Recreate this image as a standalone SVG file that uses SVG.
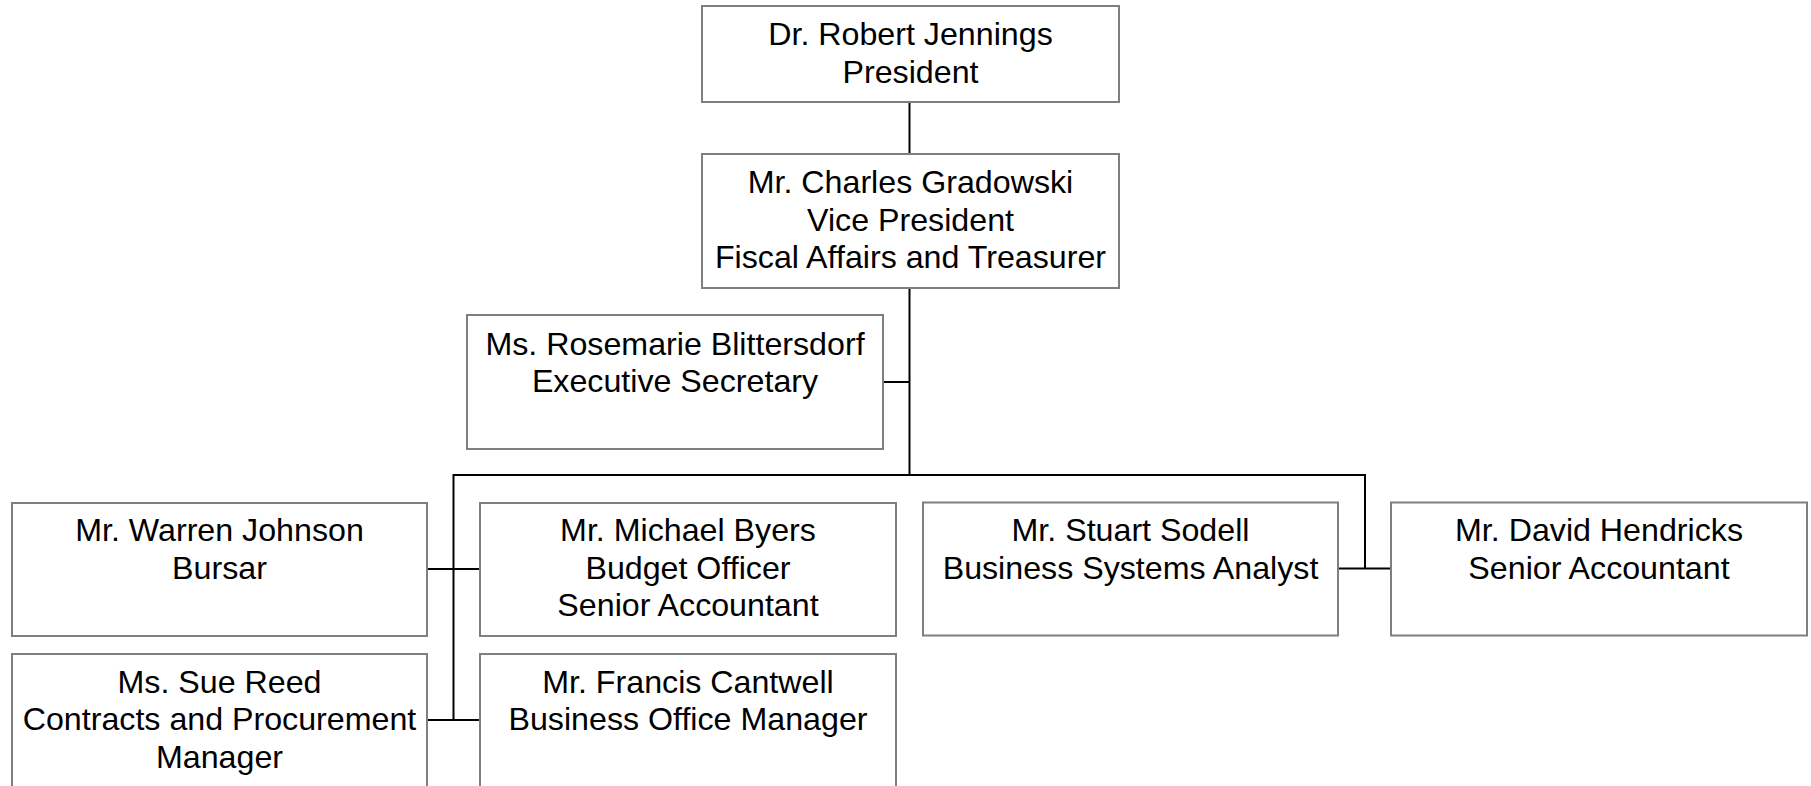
<svg xmlns="http://www.w3.org/2000/svg" width="1811" height="786" viewBox="0 0 1811 786">
<style>
.box{fill:#ffffff;stroke:#7f7f7f;stroke-width:2}
.t{font-family:"Liberation Sans",Arial,sans-serif;font-size:32.2px;fill:#000000;text-anchor:middle}
.c{stroke:#000000;stroke-width:2;fill:none}
</style>
<rect x="0" y="0" width="1811" height="786" fill="#ffffff"/>
<g id="connectors">
<line class="c" x1="909.5" y1="102" x2="909.5" y2="154"/>
<line class="c" x1="909.5" y1="288" x2="909.5" y2="475"/>
<line class="c" x1="883" y1="382" x2="909.5" y2="382"/>
<line class="c" x1="453.5" y1="475" x2="1365" y2="475"/>
<line class="c" x1="453.5" y1="474" x2="453.5" y2="720"/>
<line class="c" x1="427" y1="569" x2="480" y2="569"/>
<line class="c" x1="427" y1="720" x2="480" y2="720"/>
<line class="c" x1="1365" y1="474" x2="1365" y2="568.5"/>
<line class="c" x1="1338" y1="568.5" x2="1391" y2="568.5"/>
</g>
<g id="president">
<rect class="box" x="702" y="6" width="417" height="96"/>
<text class="t" x="910.5" y="45">Dr. Robert Jennings</text>
<text class="t" x="910.5" y="82.5">President</text>
</g>
<g id="vp">
<rect class="box" x="702" y="154" width="417" height="134"/>
<text class="t" x="910.5" y="193">Mr. Charles Gradowski</text>
<text class="t" x="910.5" y="230.5">Vice President</text>
<text class="t" x="910.5" y="268">Fiscal Affairs and Treasurer</text>
</g>
<g id="secretary">
<rect class="box" x="467" y="315" width="416" height="134"/>
<text class="t" x="675" y="354.5">Ms. Rosemarie Blittersdorf</text>
<text class="t" x="675" y="391.5">Executive Secretary</text>
</g>
<g id="warren">
<rect class="box" x="12" y="503" width="415" height="133"/>
<text class="t" x="219.5" y="541">Mr. Warren Johnson</text>
<text class="t" x="219.5" y="578.5">Bursar</text>
</g>
<g id="michael">
<rect class="box" x="480" y="503" width="416" height="133"/>
<text class="t" x="688" y="541">Mr. Michael Byers</text>
<text class="t" x="688" y="578.5">Budget Officer</text>
<text class="t" x="688" y="616">Senior Accountant</text>
</g>
<g id="stuart">
<rect class="box" x="923" y="502.5" width="415" height="133"/>
<text class="t" x="1130.5" y="541">Mr. Stuart Sodell</text>
<text class="t" x="1130.5" y="578.5">Business Systems Analyst</text>
</g>
<g id="david">
<rect class="box" x="1391" y="502.5" width="416" height="133"/>
<text class="t" x="1599" y="541">Mr. David Hendricks</text>
<text class="t" x="1599" y="578.5">Senior Accountant</text>
</g>
<g id="sue">
<rect class="box" x="12" y="654" width="415" height="134"/>
<text class="t" x="219.5" y="692.5">Ms. Sue Reed</text>
<text class="t" x="219.5" y="730">Contracts and Procurement</text>
<text class="t" x="219.5" y="767.5">Manager</text>
</g>
<g id="francis">
<rect class="box" x="480" y="654" width="416" height="134"/>
<text class="t" x="688" y="692.5">Mr. Francis Cantwell</text>
<text class="t" x="688" y="730">Business Office Manager</text>
</g>
</svg>
